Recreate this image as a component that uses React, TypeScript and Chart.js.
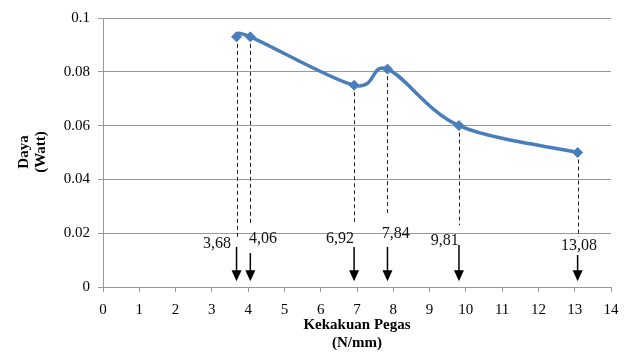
import React, { useEffect, useRef } from 'react';
import { Chart, registerables } from 'chart.js';

Chart.register(...registerables);

// ---- data ----
const stiffness = [3.68, 4.06, 6.92, 7.84, 9.81, 13.08];
const power = [0.093, 0.093, 0.075, 0.081, 0.06, 0.05];
const pointLabels = ['3,68', '4,06', '6,92', '7,84', '9,81', '13,08'];
const xTicks = [0, 1, 2, 3, 4, 5, 6, 7, 8, 9, 10, 11, 12, 13, 14];
const xTickLabels = ['0', '1', '2', '3', '4', '5', '6', '7', '8', '9', '10', '11', '12', '13', '14'];
const yTicks = [0, 0.02, 0.04, 0.06, 0.08, 0.1];
const yTickLabels = ['0', '0.02', '0.04', '0.06', '0.08', '0.1'];

// annotation geometry (data units)
const dashEnd = [0.0182, 0.023, 0.0242, 0.0275, 0.023, 0.0186];
const arrowTop = [0.0149, 0.0126, 0.0149, 0.0149, 0.0156, 0.0119];
const arrowTip = 0.0021;
const labelX = [3.14, 4.41, 6.53, 8.07, 9.42, 13.12];
const labelY = [0.016, 0.0178, 0.0178, 0.0197, 0.0171, 0.0152];

const SERIF = "'Liberation Serif', 'Times New Roman', serif";

// Excel-like smoothing: uniform Catmull-Rom control points (1/6 of neighbour chord)
const smoothPlugin = {
  id: 'excelSmooth',
  beforeDatasetDraw(chart: any, args: any) {
    const meta = args.meta;
    const line = meta.dataset;
    if (!line) return;
    line.updateControlPoints(chart.chartArea, 'x');
    const pts = meta.data;
    const n = pts.length;
    for (let i = 0; i < n; i++) {
      const p = pts[i];
      const prev = pts[Math.max(0, i - 1)];
      const next = pts[Math.min(n - 1, i + 1)];
      const dx = (next.x - prev.x) / 6;
      const dy = (next.y - prev.y) / 6;
      p.cp1x = p.x - dx;
      p.cp1y = p.y - dy;
      p.cp2x = p.x + dx;
      p.cp2y = p.y + dy;
    }
  },
};

const annotPlugin = {
  id: 'annot',
  beforeDatasetsDraw(chart: any) {
    const { ctx } = chart;
    const xs = chart.scales.x;
    const ys = chart.scales.y;
    ctx.save();
    ctx.strokeStyle = '#222';
    ctx.lineWidth = 1;
    ctx.setLineDash([4, 3]);
    stiffness.forEach((x, i) => {
      const px = Math.round(xs.getPixelForValue(x)) + 0.5;
      ctx.beginPath();
      ctx.moveTo(px, ys.getPixelForValue(power[i]));
      ctx.lineTo(px, ys.getPixelForValue(dashEnd[i]));
      ctx.stroke();
    });
    ctx.restore();
  },
  afterDraw(chart: any) {
    const { ctx } = chart;
    const xs = chart.scales.x;
    const ys = chart.scales.y;
    ctx.save();
    // arrows
    stiffness.forEach((x, i) => {
      const px = xs.getPixelForValue(x);
      const top = ys.getPixelForValue(arrowTop[i]);
      const tip = ys.getPixelForValue(arrowTip);
      ctx.strokeStyle = '#000';
      ctx.fillStyle = '#000';
      ctx.lineWidth = 1.5;
      ctx.beginPath();
      ctx.moveTo(px, top);
      ctx.lineTo(px, tip - 8);
      ctx.stroke();
      ctx.beginPath();
      ctx.moveTo(px - 5, tip - 11);
      ctx.lineTo(px + 5, tip - 11);
      ctx.lineTo(px, tip);
      ctx.closePath();
      ctx.fill();
    });
    // labels
    ctx.font = `16px ${SERIF}`;
    ctx.fillStyle = '#111';
    ctx.textAlign = 'center';
    ctx.textBaseline = 'middle';
    pointLabels.forEach((t, i) => {
      ctx.fillText(t, xs.getPixelForValue(labelX[i]), ys.getPixelForValue(labelY[i]));
    });
    // axis titles
    const ca = chart.chartArea;
    ctx.font = `bold 15px ${SERIF}`;
    ctx.fillStyle = '#000';
    const cx = (ca.left + ca.right) / 2;
    ctx.fillText('Kekakuan Pegas', cx, 325);
    ctx.fillText('(N/mm)', cx, 343);
    ctx.save();
    ctx.translate(24, 152);
    ctx.rotate(-Math.PI / 2);
    ctx.fillText('Daya', 0, 0);
    ctx.restore();
    ctx.save();
    ctx.translate(41, 152);
    ctx.rotate(-Math.PI / 2);
    ctx.fillText('(Watt)', 0, 0);
    ctx.restore();
    ctx.restore();
  },
};

export default function App() {
  const ref = useRef<HTMLCanvasElement | null>(null);
  useEffect(() => {
    if (!ref.current) return;
    const gray = '#999999';
    const chart = new Chart(ref.current, {
      type: 'line',
      data: {
        datasets: [
          {
            data: stiffness.map((x, i) => ({ x, y: power[i] })),
            borderColor: '#4a7ebb',
            backgroundColor: '#4a7ebb',
            borderWidth: 3.5,
            tension: 0.4,
            capBezierPoints: false,
            pointStyle: 'rectRot',
            pointRadius: 5,
            pointBorderWidth: 1,
            fill: false,
          },
        ],
      },
      options: {
        responsive: false,
        animation: false,
        events: [],
        layout: { padding: { top: 18, right: 18, left: 0, bottom: 0 } },
        plugins: { legend: { display: false }, tooltip: { enabled: false } },
        scales: {
          x: {
            type: 'linear',
            min: 0,
            max: 14,
            afterBuildTicks: (s: any) => {
              s.ticks = xTicks.map((v) => ({ value: v }));
            },
            afterFit: (s: any) => {
              s.height = 65;
            },
            ticks: {
              callback: (_v: any, i: number) => xTickLabels[i],
              font: { family: SERIF, size: 15 },
              color: '#000',
              padding: 9,
              maxRotation: 0,
              autoSkip: false,
            },
            grid: { drawOnChartArea: false, drawTicks: true, tickLength: 5, color: gray },
            border: { display: true, color: gray },
          },
          y: {
            type: 'linear',
            min: 0,
            max: 0.1,
            afterBuildTicks: (s: any) => {
              s.ticks = yTicks.map((v) => ({ value: v }));
            },
            afterFit: (s: any) => {
              s.width = 103;
            },
            ticks: {
              callback: (_v: any, i: number) => yTickLabels[i],
              font: { family: SERIF, size: 15 },
              color: '#000',
              padding: 8,
            },
            grid: { drawTicks: true, tickLength: 5, color: gray },
            border: { display: true, color: gray },
          },
        },
      },
      plugins: [smoothPlugin, annotPlugin],
    } as any);
    return () => chart.destroy();
  }, []);
  return (
    <div style={{ position: 'fixed', left: 0, top: 0, width: 629, height: 352, background: '#fff' }}>
      <canvas ref={ref} width={629} height={352} style={{ display: 'block' }} />
    </div>
  );
}
